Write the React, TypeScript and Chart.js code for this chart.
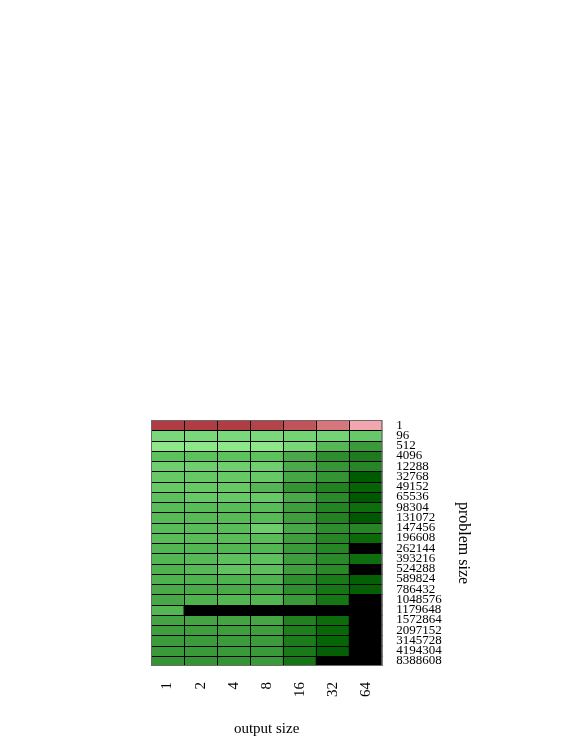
import { useEffect, useRef } from 'react';
import { Chart, registerables } from 'chart.js';
Chart.register(...registerables);

const outputSizes = ['1', '2', '4', '8', '16', '32', '64'];
const problemSizes = ['1', '96', '512', '4096', '12288', '32768', '49152', '65536', '98304', '131072', '147456', '196608', '262144', '393216', '524288', '589824', '786432', '1048576', '1179648', '1572864', '2097152', '3145728', '4194304', '8388608'];

// cell colours, one row per problem size, one entry per output size
const row1 = ['#b23c44', '#b23c44', '#b23c44', '#b5434a', '#c0545a', '#d8767e', '#f4a6b0'];
const row96 = ['#7ad87a', '#7ad87a', '#7ad87a', '#7ad87a', '#74d474', '#74d474', '#66c866'];
const row512 = ['#8ee88a', '#8ee88a', '#8ee88a', '#8ee88a', '#78d878', '#55b855', '#3a9a3a'];
const row4096 = ['#5cc25c', '#5cc25c', '#5cc25c', '#5cc25c', '#4aa84a', '#2e8e2e', '#1e7a1e'];
const row12288 = ['#6ecf6e', '#6ecf6e', '#6ecf6e', '#6ecf6e', '#4aaa4a', '#369636', '#268626'];
const row32768 = ['#66c966', '#66c966', '#66c966', '#66c966', '#46a646', '#349434', '#005a00'];
const row49152 = ['#66c966', '#66c966', '#66c966', '#56b656', '#349434', '#228222', '#066406'];
const row65536 = ['#5cc05c', '#66c866', '#66c866', '#66c866', '#4aa84a', '#2a8a2a', '#005800'];
const row98304 = ['#58bc58', '#58bc58', '#58bc58', '#58bc58', '#3e9e3e', '#248424', '#0e6e0e'];
const row131072 = ['#56ba56', '#56ba56', '#56ba56', '#56ba56', '#3e9e3e', '#228222', '#005800'];
const row147456 = ['#58bc58', '#58bc58', '#58bc58', '#6cce6c', '#48a848', '#2e8e2e', '#268626'];
const row196608 = ['#58bc58', '#58bc58', '#58bc58', '#58bc58', '#3e9e3e', '#268626', '#0a6a0a'];
const row262144 = ['#52b652', '#52b652', '#52b652', '#52b652', '#3a9a3a', '#268626', '#000000'];
const row393216 = ['#52b652', '#56b856', '#5cc05c', '#5cc05c', '#3e9e3e', '#2a8a2a', '#0e6e0e'];
const row524288 = ['#4eb24e', '#56b856', '#60c260', '#5cbe5c', '#3e9e3e', '#2a8a2a', '#000000'];
const row589824 = ['#4eb24e', '#4eb24e', '#4eb24e', '#4eb24e', '#2e8e2e', '#1a7a1a', '#056005'];
const row786432 = ['#4aaa4a', '#4aaa4a', '#4aaa4a', '#4aaa4a', '#2e8e2e', '#167616', '#056005'];
const row1048576 = ['#48a848', '#4eb24e', '#52b652', '#52b652', '#3a9a3a', '#167616', '#000000'];
const row1179648 = ['#52b652', '#000000', '#000000', '#000000', '#000000', '#000000', '#000000'];
const row1572864 = ['#44a444', '#44a444', '#44a444', '#46a646', '#218121', '#0c6c0c', '#000000'];
const row2097152 = ['#3e9e3e', '#3e9e3e', '#3e9e3e', '#3e9e3e', '#1e7e1e', '#086808', '#000000'];
const row3145728 = ['#3c9c3c', '#3c9c3c', '#3c9c3c', '#3c9c3c', '#1c7c1c', '#066606', '#000000'];
const row4194304 = ['#3a9a3a', '#3a9a3a', '#3a9a3a', '#3a9a3a', '#1a7a1a', '#056005', '#000000'];
const row8388608 = ['#349434', '#349434', '#349434', '#3a9a3a', '#167616', '#000000', '#000000'];

const cellColors = [row1, row96, row512, row4096, row12288, row32768, row49152, row65536, row98304, row131072, row147456, row196608, row262144, row393216, row524288, row589824, row786432, row1048576, row1179648, row1572864, row2097152, row3145728, row4194304, row8388608];

const FONT = "'Liberation Serif', 'DejaVu Serif', serif";

const gridPlugin = {
  id: 'cellGrid',
  beforeDatasetsDraw(chart: any) {
    const { ctx, chartArea } = chart;
    ctx.save();
    ctx.fillStyle = '#000';
    ctx.fillRect(chartArea.left, chartArea.top, chartArea.right - chartArea.left, chartArea.bottom - chartArea.top);
    ctx.restore();
  },
  afterDatasetsDraw(chart: any) {
    const { ctx, chartArea } = chart;
    const xs = chart.scales.x;
    const ys = chart.scales.y;
    ctx.save();
    ctx.strokeStyle = '#000';
    ctx.lineWidth = 1;
    ctx.beginPath();
    const n = outputSizes.length;
    const w = (chartArea.right - chartArea.left) / n;
    for (let i = 1; i < n; i++) {
      const x = Math.round(xs.getPixelForValue(i) - w / 2) + 0.5;
      ctx.moveTo(x, chartArea.top);
      ctx.lineTo(x, chartArea.bottom);
    }
    for (let k = 1; k < problemSizes.length; k++) {
      const y = Math.round(ys.getPixelForValue(k)) + 0.5;
      ctx.moveTo(chartArea.left, y);
      ctx.lineTo(chartArea.right, y);
    }
    ctx.stroke();
    ctx.strokeStyle = '#6a6a6a';
    ctx.strokeRect(chartArea.left + 0.5, chartArea.top + 0.5, chartArea.right - chartArea.left - 1, chartArea.bottom - chartArea.top - 1);
    ctx.restore();
  },
};

export default function App() {
  const ref = useRef<HTMLCanvasElement>(null);
  useEffect(() => {
    if (!ref.current) return;
    const chart = new Chart(ref.current, {
      type: 'bar',
      data: {
        labels: outputSizes,
        datasets: problemSizes.map((p, r) => ({
          label: p,
          data: outputSizes.map(() => 1),
          backgroundColor: cellColors[r],
          borderWidth: 0,
          inflateAmount: 0.5,
          stack: 's',
          barPercentage: 1,
          categoryPercentage: 1,
        })),
      },
      options: {
        animation: false,
        responsive: false,
        maintainAspectRatio: false,
        layout: { padding: { left: 151, top: 420, right: 97, bottom: 2 } },
        plugins: { legend: { display: false }, tooltip: { enabled: false } },
        scales: {
          x: {
            type: 'category',
            stacked: true,
            grid: { display: false },
            border: { display: false },
            ticks: { minRotation: 90, maxRotation: 90, color: '#000', padding: 8, font: { family: FONT, size: 15 } },
            title: { display: true, text: 'output size', color: '#000', font: { family: FONT, size: 15 }, padding: { top: 15, bottom: 0 } },
          },
          y: {
            stacked: true,
            min: 0,
            max: 24,
            reverse: true,
            display: false,
          },
          y2: {
            type: 'category',
            labels: problemSizes,
            position: 'right',
            offset: true,
            grid: { display: false },
            border: { display: false },
            ticks: { autoSkip: false, color: '#000', padding: 6, font: { family: FONT, size: 13 } },
            title: { display: true, text: 'problem size', color: '#000', font: { family: FONT, size: 16 }, padding: { top: 2, bottom: 6 } },
          },
        },
      },
      plugins: [gridPlugin],
    });
    return () => chart.destroy();
  }, []);
  return (
    <div style={{ position: 'absolute', left: 0, top: 0, width: 572, height: 740 }}>
      <canvas ref={ref} width={572} height={740} style={{ display: 'block', width: 572, height: 740 }} />
    </div>
  );
}
